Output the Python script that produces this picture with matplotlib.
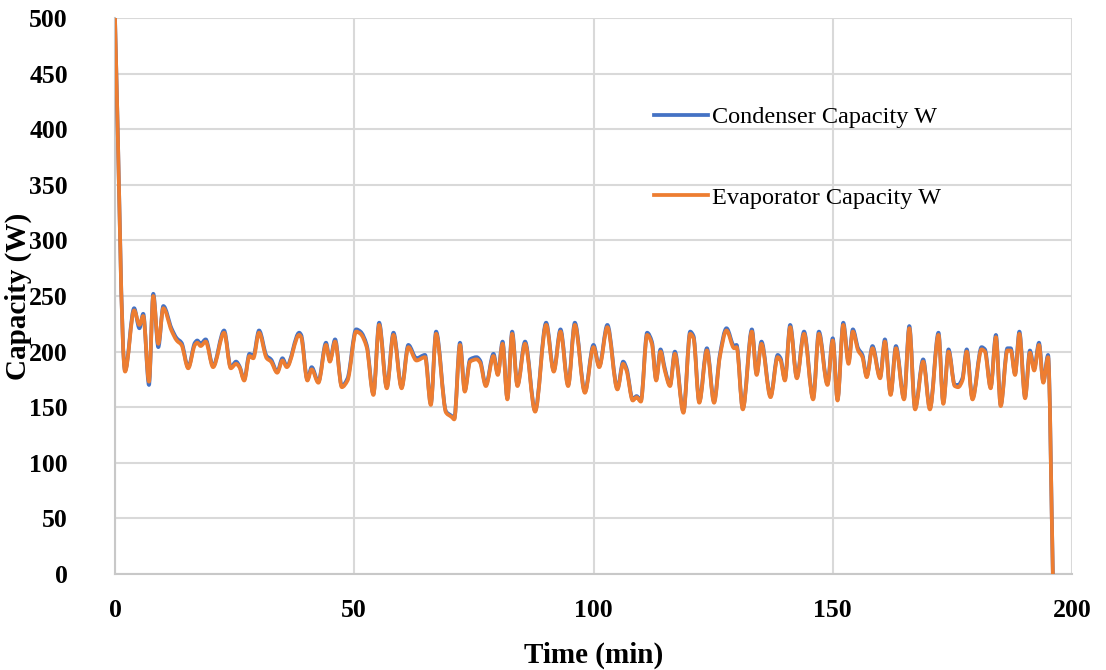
import numpy as np
import matplotlib
matplotlib.use('Agg')
import matplotlib.pyplot as plt
from matplotlib.path import Path
from matplotlib.patches import PathPatch
from matplotlib.lines import Line2D

plt.rcParams['font.family'] = ['Liberation Serif', 'DejaVu Serif']

# time (min) and capacity (W)
time_min = [0, 2.1, 4.0, 5.1, 5.9, 7.1, 8.0, 9.05, 10.1, 11.8, 12.9, 13.9, 15.3, 16.7, 17.2, 17.9,
            18.95, 20.5, 22.8, 24.2, 25.3, 26.0, 27.0, 28.1, 28.9, 30.1, 31.7, 32.6, 33.9, 35.0, 35.9,
            38.5, 38.9, 40.2, 41.1, 42.5, 44.1, 44.9, 46.0, 47.4, 48.6, 50.4, 51.3, 52.6, 54.0, 55.2,
            56.8, 58.2, 59.9, 61.3, 63.0, 64.8, 66.0, 67.1, 69.2, 70.4, 70.9, 72.1, 73.1, 74.2, 75.6,
            76.3, 77.5, 79.1, 80.0, 81.0, 82.0, 83.0, 84.1, 85.7, 87.8, 90.1, 91.7, 93.1, 94.7, 96.1,
            98.2, 100.0, 101.2, 102.9, 105.0, 106.2, 106.9, 108.2, 109.0, 109.9, 111.2, 112.2, 113.1,
            114.0, 114.9, 116.0, 117.0, 118.8, 120.2, 120.9, 122.1, 123.7, 125.2, 126.4, 127.8, 129.4,
            129.9, 131.2, 133.1, 134.1, 135.1, 137.0, 138.5, 139.1, 140.0, 141.1, 142.5, 144.0, 145.9,
            147.1, 148.9, 150.0, 151.0, 152.2, 153.3, 154.2, 155.3, 156.2, 157.1, 158.3, 159.9, 160.9,
            162.1, 163.2, 164.9, 166.0, 167.2, 168.9, 170.3, 172.1, 173.1, 174.2, 175.5, 176.2, 177.1,
            178.0, 179.2, 181.1, 181.8, 183.0, 184.1, 185.1, 186.5, 187.2, 188.1, 189.0, 190.2, 191.2,
            192.1, 193.1, 194.0, 195.0, 196.0]

evaporator = [500, 182, 237, 224, 232, 173, 250, 207, 239, 219, 210, 206, 185, 206, 208, 205,
              209, 186, 217, 185, 189, 186, 174, 196, 194, 217, 194, 191, 181, 192, 186,
              215, 213, 174, 184, 172, 206, 191, 209, 168, 174, 218, 216, 204, 161, 224,
              167, 215, 167, 204, 192, 195, 152, 216, 145, 141, 139, 206, 164, 191, 193,
              190, 169, 196, 179, 207, 157, 216, 169, 207, 146, 224, 182, 218, 169, 224,
              163, 204, 186, 222, 166, 189, 183, 156, 159, 155, 215, 207, 174,
              200, 183, 169, 198, 145, 216, 212, 154, 201, 154, 195, 219, 203,
              204, 148, 218, 179, 207, 159, 195, 192, 174, 222, 176, 216, 157,
              216, 170, 210, 156, 224, 189, 218, 201, 195, 177, 203, 176, 209,
              161, 203, 157, 221, 148, 191, 148, 215, 153, 200, 169, 168, 174,
              200, 157, 202, 200, 167, 213, 151, 201, 201, 179, 216, 158, 199,
              183, 206, 172, 195, 0]

condenser = [500, 183, 239, 221, 234, 170, 252, 204, 241, 221, 212, 208, 186, 208, 210, 207,
             211, 187, 219, 186, 191, 187, 175, 198, 196, 219, 196, 193, 182, 194, 187,
             217, 215, 175, 186, 173, 208, 192, 211, 169, 176, 220, 218, 206, 162, 226,
             168, 217, 168, 206, 194, 197, 153, 218, 146, 142, 140, 208, 165, 193, 195,
             192, 170, 198, 180, 209, 158, 218, 170, 209, 147, 226, 183, 220, 170, 226,
             164, 206, 187, 224, 167, 191, 185, 157, 160, 156, 217, 209, 175,
             202, 185, 170, 200, 146, 218, 214, 155, 203, 155, 197, 221, 205,
             206, 149, 220, 180, 209, 160, 197, 194, 175, 224, 177, 218, 158,
             218, 171, 212, 157, 226, 191, 220, 203, 197, 178, 205, 177, 211,
             162, 205, 158, 223, 149, 193, 149, 217, 154, 202, 170, 170, 176,
             202, 158, 204, 202, 168, 215, 152, 203, 203, 180, 218, 159, 201,
             185, 208, 173, 197, 0]

x_ticks = [0, 50, 100, 150, 200]
y_ticks = [0, 50, 100, 150, 200, 250, 300, 350, 400, 450, 500]

BLUE = '#4472C4'
ORANGE = '#ED7D31'


def smooth_path(x, y):
    # smoothed line like the spreadsheet: cubic bezier pieces, flat at turning points
    x = np.asarray(x, float)
    y = np.asarray(y, float)
    h = np.diff(x)
    d = np.diff(y) / h
    m = np.zeros(len(x))
    m[0], m[-1] = d[0], d[-1]
    for k in range(1, len(x) - 1):
        if d[k - 1] * d[k] > 0:
            w1 = 2 * h[k] + h[k - 1]
            w2 = h[k] + 2 * h[k - 1]
            m[k] = (w1 + w2) / (w1 / d[k - 1] + w2 / d[k])
    verts = [(x[0], y[0])]
    for k in range(len(x) - 1):
        verts.append((x[k] + h[k] / 3, y[k] + m[k] * h[k] / 3))
        verts.append((x[k + 1] - h[k] / 3, y[k + 1] - m[k + 1] * h[k] / 3))
        verts.append((x[k + 1], y[k + 1]))
    codes = [Path.MOVETO] + [Path.CURVE4] * (len(verts) - 1)
    return Path(verts, codes)


fig = plt.figure(figsize=(11.06, 6.70), dpi=100)
ax = fig.add_axes([115 / 1106, 1 - 574 / 670, 957 / 1106, 556 / 670])

ax.add_patch(PathPatch(smooth_path(time_min, condenser), fill=False, edgecolor=BLUE,
                       linewidth=2.7, joinstyle='round', capstyle='round', zorder=3))
ax.add_patch(PathPatch(smooth_path(time_min, evaporator), fill=False, edgecolor=ORANGE,
                       linewidth=2.7, joinstyle='round', capstyle='round', zorder=4))

ax.set_xlim(0, 200)
ax.set_ylim(0, 500)
ax.set_xticks(x_ticks)
ax.set_yticks(y_ticks)
ax.set_xticklabels([str(v) for v in x_ticks], fontweight='bold')
ax.set_yticklabels([str(v) for v in y_ticks], fontweight='bold')
ax.tick_params(axis='both', length=0, labelsize=18.5)
ax.tick_params(axis='x', pad=18)
ax.tick_params(axis='y', pad=34)

ax.grid(True, color='#D9D9D9', linewidth=1.5)
ax.set_axisbelow(True)
for s in ['top', 'right']:
    ax.spines[s].set_visible(False)
for s in ['left', 'bottom']:
    ax.spines[s].set_color('#C8C8C8')
    ax.spines[s].set_linewidth(1.5)

ax.set_xlabel('Time (min)', fontsize=21, fontweight='bold', labelpad=14)
ax.set_ylabel('Capacity (W)', fontsize=21, fontweight='bold')
ax.yaxis.set_label_coords(-0.087, 0.5)

handles = [Line2D([], [], color=BLUE, linewidth=2.7),
           Line2D([], [], color=ORANGE, linewidth=2.7)]
ax.legend(handles, ['Condenser Capacity W', 'Evaporator Capacity W'],
          loc='upper left', bbox_to_anchor=(642 / 1106, 1 - 94 / 670),
          bbox_transform=fig.transFigure, frameon=False, borderpad=0,
          handlelength=2.2, handletextpad=0.2, labelspacing=2.4,
          prop={'family': 'Liberation Serif', 'size': 17.5})

fig.savefig('out.png', dpi=100)
